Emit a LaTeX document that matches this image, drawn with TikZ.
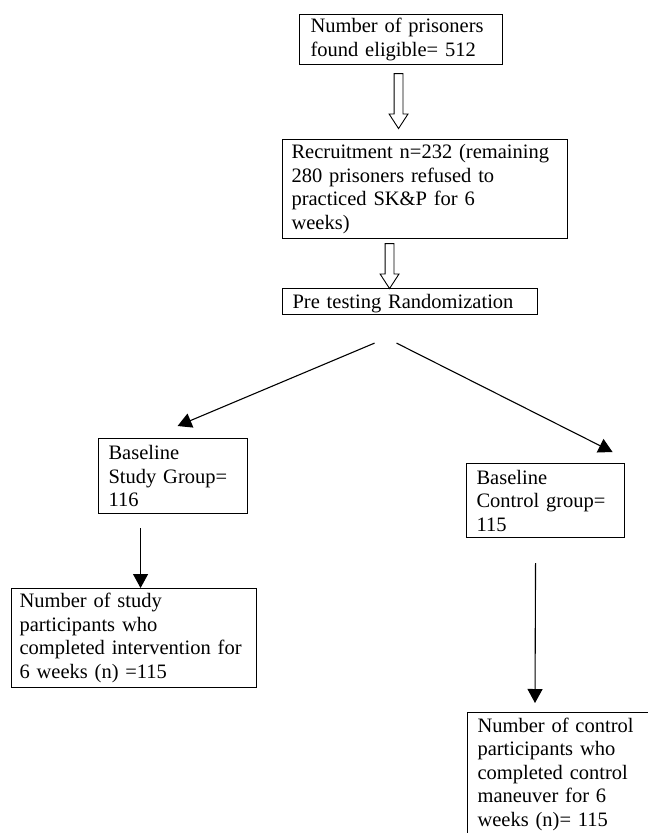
\documentclass[tikz,border=0pt]{standalone}
\usepackage{fontspec}
\setmainfont{Liberation Serif}
\usetikzlibrary{arrows.meta,shapes.arrows}

\tikzset{
  box/.style={draw, line width=1.1pt, anchor=north west, align=left, inner xsep=9pt, inner ysep=0pt,
    font=\fontsize{20.5}{23.5}\selectfont},
  arr/.style={line width=1.1pt, -{Triangle[length=14pt,width=15pt]}},
  blockarrow/.style={draw, line width=0.9pt, single arrow, shape border rotate=270, inner xsep=4pt, inner ysep=0pt,
    single arrow head extend=5pt, single arrow tip angle=66}
}

\begin{document}
\begin{tikzpicture}[x=1pt,y=-1pt]
 \clip (0,0) rectangle (648,833);
 \node[box, inner xsep=11pt, text width=181pt, minimum height=50pt] (elig) at (299,14) {Number of prisoners\\found eligible= 512};
 \node[box, text width=267pt, minimum height=99pt] (recruit) at (282,139) {Recruitment n=232 (remaining\\280 prisoners refused to\\practiced SK\&P for 6\\weeks)};
 \node[box, inner xsep=10pt, text width=235pt, minimum height=26pt, text depth=0pt] (pretest) at (282,288) {Pre testing Randomization};
 \node[box, inner xsep=10pt, text width=129pt, minimum height=75pt] (basestudy) at (98,438) {Baseline\\Study Group=\\116};
 \node[box, inner xsep=10pt, text width=138pt, minimum height=74pt] (basectrl) at (466,463) {Baseline\\Control group=\\115};
 \node[box, inner xsep=8pt, text width=229pt, minimum height=99pt] (donestudy) at (11,588) {Number of study\\participants who\\completed intervention for\\6 weeks (n) =115};
 \node[box, inner xsep=10pt, inner ysep=5.5pt, text width=190pt] (donectrl) at (467,712) {Number of control\\participants who\\completed control\\maneuver for 6\\weeks (n)= 115};

 \node[blockarrow, anchor=tail, minimum height=55pt] (down1) at ([xshift=-2.5pt,yshift=-8pt]elig.south) {};
 \node[blockarrow, anchor=tail, minimum height=45pt] (down2) at ([xshift=-35.5pt,yshift=-4pt]recruit.south) {};

 \coordinate (splitL) at ([xshift=-35.5pt,yshift=-28pt]pretest.south);
 \coordinate (splitR) at ([xshift=-13.5pt,yshift=-28pt]pretest.south);
 \draw[arr] (splitL) -- ([xshift=4.5pt,yshift=12pt]basestudy.north);
 \draw[arr] (splitR) -- ([xshift=67pt,yshift=11pt]basectrl.north);
 \draw[arr] ([xshift=-32.5pt,yshift=-14pt]basestudy.south) -- ([xshift=6.5pt]donestudy.north);
 \draw[arr] ([xshift=-10pt,yshift=-25pt]basectrl.south) -- ([xshift=68pt,yshift=9pt]donectrl.north west);
\end{tikzpicture}
\end{document}
